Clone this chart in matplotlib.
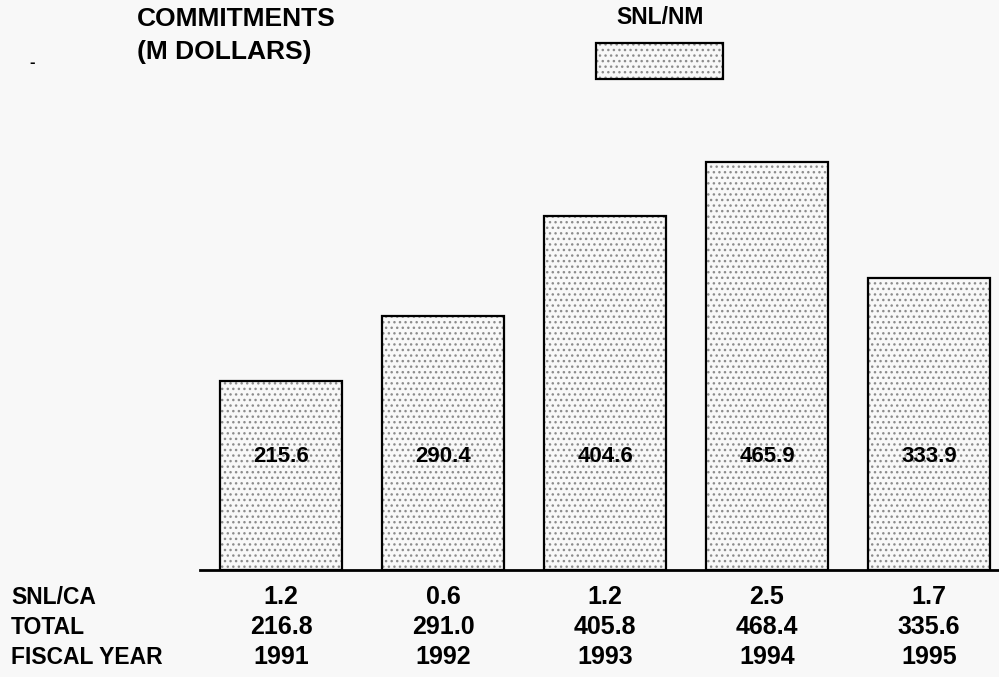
import matplotlib
matplotlib.use("Agg")
import matplotlib.pyplot as plt
from matplotlib.patches import Rectangle

years = ["1991", "1992", "1993", "1994", "1995"]
snl_nm = [215.6, 290.4, 404.6, 465.9, 333.9]
snl_ca = ["1.2", "0.6", "1.2", "2.5", "1.7"]
total = ["216.8", "291.0", "405.8", "468.4", "335.6"]

plt.rcParams['font.family'] = ['Liberation Sans', 'DejaVu Sans']
plt.rcParams['hatch.linewidth'] = 1.0

W, H = 999, 677
fig = plt.figure(figsize=(W / 100, H / 100), dpi=100)
fig.patch.set_facecolor("#f8f8f8")

# axes: baseline at y=570 px, from x=200 px to right edge
ax = fig.add_axes([200 / W, (H - 570) / H, 1 - 200 / W, 570 / H])
ax.set_facecolor("none")
x = list(range(len(years)))
ax.set_xlim(-0.5, (999 - 281) / 162.0)
ax.set_ylim(0, 570 / 0.876)

ax.bar(x, snl_nm, width=0.75, color="none", edgecolor="#8c8c8c",
       hatch="...", linewidth=0)
ax.bar(x, snl_nm, width=0.75, fill=False, edgecolor="black", linewidth=1.6)
for xi, v in zip(x, snl_nm):
    ax.text(xi, 130, "%.1f" % v, ha="center", va="center", fontsize=16,
            fontweight="bold")

for s in ["top", "right", "left"]:
    ax.spines[s].set_visible(False)
ax.spines["bottom"].set_linewidth(2)
ax.set_xticks([])
ax.set_yticks([])

# table below the chart
rows = [("SNL/CA", snl_ca, 597), ("TOTAL", total, 627), ("FISCAL YEAR", years, 657)]
for label, vals, ypx in rows:
    fig.text(11 / W, 1 - ypx / H, label, ha="left", va="center", fontsize=16.5,
             fontweight="bold")
    for xi, v in zip(x, vals):
        xd = ax.transData.transform((xi, 0))[0] / W
        fig.text(xd, 1 - ypx / H, v, ha="center", va="center", fontsize=18,
                 fontweight="bold")

# titles
fig.text(137 / W, 1 - 19 / H, "COMMITMENTS", ha="left", va="center",
         fontsize=19, fontweight="bold")
fig.text(137 / W, 1 - 52 / H, "(M DOLLARS)", ha="left", va="center",
         fontsize=19, fontweight="bold")
fig.text(32 / W, 1 - 62 / H, "-", ha="center", va="center", fontsize=12,
         fontweight="bold")

# legend
fig.text(660 / W, 1 - 18 / H, "SNL/NM", ha="center", va="center",
         fontsize=16.5, fontweight="bold")
fig.patches.append(Rectangle((596 / W, 1 - 79 / H), 127 / W, 36 / H,
                             transform=fig.transFigure, facecolor="none",
                             edgecolor="#8c8c8c", hatch="...", linewidth=0))
fig.patches.append(Rectangle((596 / W, 1 - 79 / H), 127 / W, 36 / H,
                             transform=fig.transFigure, fill=False,
                             edgecolor="black", linewidth=1.6))

fig.savefig("out.png", dpi=100, facecolor=fig.get_facecolor())
